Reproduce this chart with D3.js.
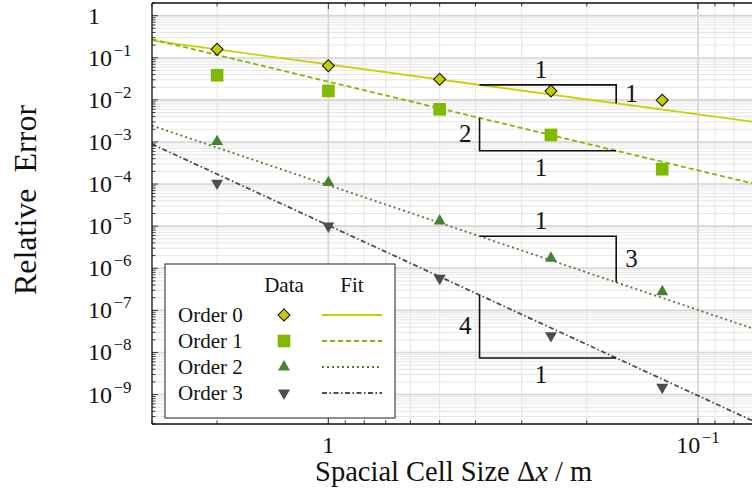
<!DOCTYPE html>
<html>
<head>
<meta charset="utf-8">
<script src="https://cdn.jsdelivr.net/npm/d3@7"></script>
<style>
  body { margin: 0; background: #fff; }
  svg { display: block; font-family: "Liberation Serif", "DejaVu Serif", serif; }
</style>
</head>
<body>
<svg id="chart" width="752" height="501"></svg>
<script>
// cell sizes (m) and the relative error of each scheme order
const cellSizes = [2, 1, 0.5, 0.25, 0.125];
const orderNames = ["Order 0", "Order 1", "Order 2", "Order 3"];
const errOrder0 = [0.159, 0.0649, 0.0308, 0.0163, 0.00977];
const errOrder1 = [0.0384, 0.0163, 0.00597, 0.00147, 0.000225];
const errOrder2 = [1.02e-3, 1.08e-4, 1.33e-5, 1.73e-6, 2.78e-7];
const errOrder3 = [1.05e-4, 1.01e-5, 5.78e-7, 2.51e-8, 1.49e-9];

// fitted power laws: err = coef * dx^exp
const fitCoef = [0.0693, 0.0271, 9.42e-5, 1.045e-5];
const fitExp = [1.185, 2.107, 2.965, 4.045];

// slope triangles (run between two cell sizes)
const triFrom = 0.39, triTo = 0.1665, triMid = 0.266;
const triRise = ["1", "2", "3", "4"];
const triRun = ["1", "1", "1", "1"];
const triSide = ["above", "below", "above", "below"];

// axis ticks
const xMajor = [1, 0.1];
const yMajorExp = [0, -1, -2, -3, -4, -5, -6, -7, -8, -9];

const colors = ["#c8d200", "#80ba00", "#468232", "#4d4d4d"];
const markFill = ["#c4cc00", "#80ba00", "#468232", "#4d4d4d"];
const dashes = [null, "5,3", "2,3", "5,2.5,1.5,2.5"];

const errs = [errOrder0, errOrder1, errOrder2, errOrder3];

const pLeft = 152, pRight = 755.3, pTop = 3, pBottom = 424;
const x = d3.scaleLog().domain([3, 0.07]).range([pLeft, pRight]);
const y = d3.scaleLog().domain([2e-10, 2]).range([pBottom, pTop]);

const svg = d3.select("#chart");

// minor values for grid and ticks
const xMinor = [];
for (let e = -2; e <= 0; e++) {
    for (let k = 1; k <= 9; k++) {
        const v = k * Math.pow(10, e);
        if (v >= 0.07 && v <= 3.0001) xMinor.push(v);
    }
}
const yMinor = [];
for (let e = -10; e <= 0; e++) {
    for (let k = 1; k <= 9; k++) {
        const v = k * Math.pow(10, e);
        if (v >= 2e-10 && v <= 2.0001) yMinor.push(v);
    }
}
const yMajor = yMajorExp.map(e => Math.pow(10, e));

// grid
const grid = svg.append("g");
grid.selectAll("line.gx").data(xMinor).join("line")
    .attr("x1", d => x(d)).attr("x2", d => x(d))
    .attr("y1", pTop).attr("y2", pBottom)
    .attr("stroke", "#e0e0e0").attr("stroke-width", 0.8);
grid.selectAll("line.gy").data(yMinor).join("line")
    .attr("x1", pLeft).attr("x2", pRight)
    .attr("y1", d => y(d)).attr("y2", d => y(d))
    .attr("stroke", "#e0e0e0").attr("stroke-width", 0.8);
grid.selectAll("line.gxm").data(xMajor).join("line")
    .attr("x1", d => x(d)).attr("x2", d => x(d))
    .attr("y1", pTop).attr("y2", pBottom)
    .attr("stroke", "#d6d6d6").attr("stroke-width", 1.6);
grid.selectAll("line.gym").data(yMajor).join("line")
    .attr("x1", pLeft).attr("x2", pRight)
    .attr("y1", d => y(d)).attr("y2", d => y(d))
    .attr("stroke", "#d6d6d6").attr("stroke-width", 1.6);

// clip for plotted data
svg.append("clipPath").attr("id", "plotClip")
    .append("rect").attr("x", pLeft).attr("y", pTop)
    .attr("width", pRight - pLeft).attr("height", pBottom - pTop);

const plot = svg.append("g").attr("clip-path", "url(#plotClip)");

// fit lines
const fitLine = d3.line().x(d => x(d[0])).y(d => y(d[1]));
fitCoef.forEach((c, i) => {
    const pts = [3, 0.07].map(dx => [dx, c * Math.pow(dx, fitExp[i])]);
    plot.append("path")
        .attr("d", fitLine(pts))
        .attr("fill", "none")
        .attr("stroke", colors[i])
        .attr("stroke-width", 1.8)
        .attr("stroke-dasharray", dashes[i]);
});

// slope triangles
const fitAt = (i, dx) => fitCoef[i] * Math.pow(dx, fitExp[i]);
const tri = svg.append("g").attr("font-size", 25).attr("fill", "#111");
fitCoef.forEach((c, i) => {
    const x0 = x(triFrom), x1 = x(triTo);
    const y0 = y(fitAt(i, triFrom)), y1 = y(fitAt(i, triTo));
    let pts, runY, riseX, riseAnchor;
    if (triSide[i] === "above") {
        pts = [[x0, y0], [x1, y0], [x1, y1]];
        runY = y0 - 7;
        riseX = x1 + 9; riseAnchor = "start";
    } else {
        pts = [[x0, y0], [x0, y1], [x1, y1]];
        runY = y1 + 25;
        riseX = x0 - 8; riseAnchor = "end";
    }
    tri.append("path")
        .attr("d", d3.line()(pts))
        .attr("fill", "none")
        .attr("stroke", "#111")
        .attr("stroke-width", 1.6);
    tri.append("text")
        .attr("x", x(triMid)).attr("y", runY)
        .attr("text-anchor", "middle")
        .text(triRun[i]);
    tri.append("text")
        .attr("x", riseX).attr("y", (y0 + y1) / 2 + 8)
        .attr("text-anchor", riseAnchor)
        .text(triRise[i]);
});

// markers
const markerPath = i => {
    if (i === 0) return d3.symbol(d3.symbolSquare, 72)();
    if (i === 1) return d3.symbol(d3.symbolSquare, 160)();
    return d3.symbol(d3.symbolTriangle, 62)();
};
const markerRot = i => (i === 0 ? 45 : i === 3 ? 180 : 0);

errs.forEach((series, i) => {
    svg.append("g").selectAll("path")
        .data(series.map((v, j) => [cellSizes[j], v]))
        .join("path")
        .attr("d", markerPath(i))
        .attr("transform", d => `translate(${x(d[0])},${y(d[1])}) rotate(${markerRot(i)})`)
        .attr("fill", markFill[i])
        .attr("stroke", i === 0 ? "#111" : "none")
        .attr("stroke-width", 1);
});

// axis frame and ticks
const axes = svg.append("g").attr("stroke", "#111");
const tickLen = v => (v.major ? 6 : 3.5);
const xTicks = xMinor.map(v => ({ v, major: xMajor.some(m => Math.abs(m - v) < 1e-9) }));
const yTicks = yMinor.map(v => ({ v, major: yMajor.some(m => Math.abs(m - v) / m < 1e-9) }));

axes.selectAll("line.xb").data(xTicks).join("line")
    .attr("x1", d => x(d.v)).attr("x2", d => x(d.v))
    .attr("y1", pBottom).attr("y2", d => pBottom - tickLen(d))
    .attr("stroke-width", 0.8);
axes.selectAll("line.xt").data(xTicks).join("line")
    .attr("x1", d => x(d.v)).attr("x2", d => x(d.v))
    .attr("y1", pTop).attr("y2", d => pTop + tickLen(d))
    .attr("stroke-width", 0.8);
axes.selectAll("line.yl").data(yTicks).join("line")
    .attr("x1", pLeft).attr("x2", d => pLeft + tickLen(d))
    .attr("y1", d => y(d.v)).attr("y2", d => y(d.v))
    .attr("stroke-width", 0.8);

axes.append("line").attr("x1", pLeft).attr("x2", pRight + 2).attr("y1", pTop).attr("y2", pTop).attr("stroke-width", 1.3);
axes.append("line").attr("x1", pLeft).attr("x2", pRight + 2).attr("y1", pBottom).attr("y2", pBottom).attr("stroke-width", 1.3);
axes.append("line").attr("x1", pLeft).attr("x2", pLeft).attr("y1", pTop).attr("y2", pBottom).attr("stroke-width", 1.3);

// tick labels
const powerLabel = (sel, e) => {
    if (e === 0) { sel.text("1"); return; }
    sel.append("tspan").text("10");
    sel.append("tspan").attr("font-size", 17).attr("dx", 1.5).attr("dy", -10).text("\u2212" + Math.abs(e));
};

const yLabels = svg.append("g").attr("font-size", 24).attr("fill", "#111");
yMajorExp.forEach(e => {
    const t = yLabels.append("text")
        .attr("x", 88)
        .attr("y", y(Math.pow(10, e)) + 8);
    powerLabel(t, e);
});

const xLabels = svg.append("g").attr("font-size", 24).attr("fill", "#111").attr("text-anchor", "middle");
xMajor.forEach(v => {
    const e = Math.round(Math.log10(v));
    const t = xLabels.append("text")
        .attr("x", x(v))
        .attr("y", 453);
    powerLabel(t, e);
});

// axis titles
const xTitle = svg.append("text")
    .attr("x", (pLeft + pRight) / 2)
    .attr("y", 481)
    .attr("text-anchor", "middle")
    .attr("font-size", 28.5)
    .attr("fill", "#111");
xTitle.append("tspan").text("Spacial Cell Size \u0394");
xTitle.append("tspan").attr("font-style", "italic").text("x");
xTitle.append("tspan").text(" / m");

svg.append("text")
    .attr("transform", "translate(36,200) rotate(-90)")
    .attr("text-anchor", "middle")
    .attr("font-size", 32)
    .attr("word-spacing", 8)
    .attr("fill", "#111")
    .text("Relative Error");

// legend
const lg = svg.append("g");
lg.append("rect")
    .attr("x", 165).attr("y", 264).attr("width", 230).attr("height", 154)
    .attr("fill", "#fff").attr("stroke", "#333").attr("stroke-width", 1.1);
lg.append("text").attr("x", 284).attr("y", 292).attr("text-anchor", "middle")
    .attr("font-size", 21).attr("fill", "#111").text("Data");
lg.append("text").attr("x", 352).attr("y", 292).attr("text-anchor", "middle")
    .attr("font-size", 21).attr("fill", "#111").text("Fit");

const rowY = d3.scalePoint().domain(orderNames).range([315, 393]);
orderNames.forEach((name, i) => {
    const ry = rowY(name);
    lg.append("text").attr("x", 178).attr("y", ry + 7)
        .attr("font-size", 21).attr("fill", "#111").text(name);
    lg.append("path")
        .attr("d", markerPath(i))
        .attr("transform", `translate(284,${ry}) rotate(${markerRot(i)})`)
        .attr("fill", markFill[i])
        .attr("stroke", i === 0 ? "#111" : "none")
        .attr("stroke-width", 1);
    lg.append("line")
        .attr("x1", 322).attr("x2", 382).attr("y1", ry).attr("y2", ry)
        .attr("stroke", colors[i]).attr("stroke-width", 1.8)
        .attr("stroke-dasharray", dashes[i]);
});
</script>
</body>
</html>
